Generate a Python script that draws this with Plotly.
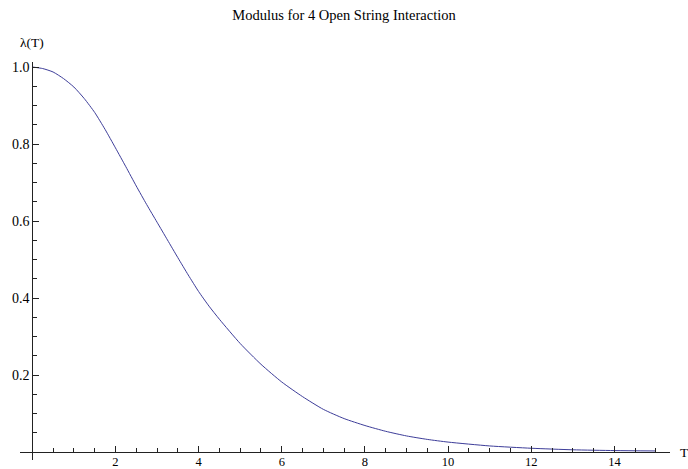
import plotly.graph_objects as go

T_vals = [0, 0.25, 0.5, 0.75, 1, 1.25, 1.5, 1.75, 2, 2.25, 2.5, 2.75, 3, 3.25, 3.5, 3.75, 4, 4.25, 4.5, 5, 5.5, 6, 6.5, 7, 7.5, 8, 8.5, 9, 9.5, 10, 11, 12, 13, 14, 15]
lam_vals = [1.0, 0.996, 0.987, 0.970, 0.948, 0.918, 0.882, 0.838, 0.790, 0.741, 0.691, 0.643, 0.597, 0.551, 0.505, 0.460, 0.417, 0.379, 0.345, 0.282, 0.228, 0.182, 0.144, 0.111, 0.087, 0.069, 0.054, 0.042, 0.033, 0.026, 0.016, 0.010, 0.006, 0.004, 0.003]

x_major = [2, 4, 6, 8, 10, 12, 14]
x_labels = ["2", "4", "6", "8", "10", "12", "14"]
y_major = [0.2, 0.4, 0.6, 0.8, 1.0]
y_labels = ["0.2", "0.4", "0.6", "0.8", "1.0"]

title_text = "Modulus for 4 Open String Interaction"
x_title = "T"
y_title = "λ(T)"

XR = [-0.296, 15.337]
YR = [-0.0205, 1.013]

font_family = "Liberation Serif"
axis_col = "#222222"

W, H = 688, 469

fig = go.Figure()
fig.add_trace(go.Scatter(x=T_vals, y=lam_vals, mode="lines",
                         line=dict(color="#3d3d99", width=1, shape="spline", smoothing=0.6),
                         showlegend=False, hoverinfo="skip"))

fig.update_layout(
    width=W, height=H,
    margin=dict(l=20, r=18, t=62, b=9),
    paper_bgcolor="white", plot_bgcolor="white",
    font=dict(family=font_family, size=13, color="#000000"),
    title=dict(text=title_text, x=0.5, xanchor="center", xref="container",
               y=1 - 15 / H, yref="container", yanchor="middle",
               font=dict(family=font_family, size=14.5, color="#000000")),
    xaxis=dict(range=XR, showgrid=False, zeroline=False, showline=True,
               linecolor=axis_col, linewidth=1,
               anchor="free", position=(0 - YR[0]) / (YR[1] - YR[0]),
               tickmode="array", tickvals=x_major, ticktext=x_labels,
               ticks="inside", ticklen=6, tickcolor=axis_col, tickwidth=1,
               minor=dict(ticks="inside", dtick=0.5, tick0=0, ticklen=4,
                          tickcolor=axis_col, tickwidth=1, showgrid=False),
               tickfont=dict(family=font_family, size=12.5),
               ticklabelstandoff=-2,
               automargin=False, fixedrange=True),
    yaxis=dict(range=YR, showgrid=False, zeroline=False, showline=True,
               linecolor=axis_col, linewidth=1,
               anchor="free", position=(0 - XR[0]) / (XR[1] - XR[0]),
               tickmode="array", tickvals=y_major, ticktext=y_labels,
               ticks="inside", ticklen=6, tickcolor=axis_col, tickwidth=1,
               minor=dict(ticks="inside", dtick=0.05, tick0=0, ticklen=4,
                          tickcolor=axis_col, tickwidth=1, showgrid=False),
               tickfont=dict(family=font_family, size=14),
               automargin=False, fixedrange=True),
)

fig.add_annotation(text=y_title, xref="paper", yref="paper",
                   x=(0 - XR[0]) / (XR[1] - XR[0]), y=1,
                   xanchor="center", yanchor="bottom", yshift=10,
                   showarrow=False, font=dict(family=font_family, size=13.5))
fig.add_annotation(text=x_title, xref="paper", yref="paper",
                   x=1, y=(0 - YR[0]) / (YR[1] - YR[0]),
                   xanchor="left", yanchor="middle", xshift=8,
                   showarrow=False, font=dict(family=font_family, size=13.5))

# remove the browser's default 8px body margin so the figure sits at the page origin
fig.write_html("out.html", config={"displayModeBar": False},
               post_script="document.body.style.margin='0';")
